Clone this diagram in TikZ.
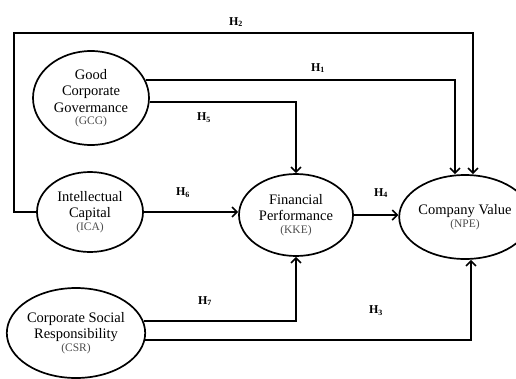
\documentclass[tikz,border=0pt]{standalone}
\usepackage{fontspec}
\setmainfont{Liberation Serif}
\usetikzlibrary{arrows.meta,shapes.geometric}
\newcommand{\subvar}[1]{{\fontsize{11.5}{12}\selectfont\color{black!70}(#1)}}
\begin{document}
\begin{tikzpicture}[x=1pt,y=-1pt,>={Straight Barb[length=5pt,width=10pt,line width=1.6pt]},
  var/.style={draw,line width=1.7pt,ellipse,inner sep=0pt,align=center,
              font=\fontsize{14.5}{16.5}\selectfont},
  link/.style={line width=1.8pt,->},
  hyp/.style={font=\bfseries\fontsize{12}{12}\selectfont}]
  \useasboundingbox (0,0) rectangle (516,378);
  % the variables
  \node[var,minimum width=116,minimum height=94] (gcg) at (91,98)
        {Good\\Corporate\\Govermance\\[-4pt]\subvar{GCG}};
  \node[var,minimum width=106,minimum height=80] (ica) at (90,212)
        {Intellectual\\Capital\\[-4pt]\subvar{ICA}};
  \node[var,minimum width=122,minimum height=90] (csr) at (76,333)
        {Corporate Social\\Responsibility\\[-4pt]\subvar{CSR}};
  \node[var,minimum width=114,minimum height=82] (kke) at (296,215)
        {Financial\\Performance\\[-4pt]\subvar{KKE}};
  \node[var,minimum width=104,minimum height=84] (npe) at (465,217)
        {Company Value\\[-4pt]\subvar{NPE}};
  % hypothesis paths
  \draw[link] (ica.west) -| (14,33) -| ([xshift=8]npe.north);      % H2
  \draw[link] (gcg.18) -| ([xshift=-10]npe.north);                  % H1
  \draw[link] (gcg.-4) -| (kke.north);                              % H5
  \draw[link] (ica.east) -- (ica.east -| kke.west);                 % H6
  \draw[link] (kke.east) -- (kke.east -| npe.west);                 % H4
  \draw[link] (csr.10) -| (kke.south);                              % H7
  \draw[link] (csr.-6) -| ([xshift=6]npe.south);                    % H3
  % labels
  \node[hyp] (h2) at (236,22)  {H\textsubscript{2}};
  \node[hyp] (h1) at (318,68)  {H\textsubscript{1}};
  \node[hyp] (h5) at (204,118) {H\textsubscript{5}};
  \node[hyp] (h6) at (183,193) {H\textsubscript{6}};
  \node[hyp] (h4) at (381,193) {H\textsubscript{4}};
  \node[hyp] (h7) at (205,301) {H\textsubscript{7}};
  \node[hyp] (h3) at (376,311) {H\textsubscript{3}};
\end{tikzpicture}
\end{document}
